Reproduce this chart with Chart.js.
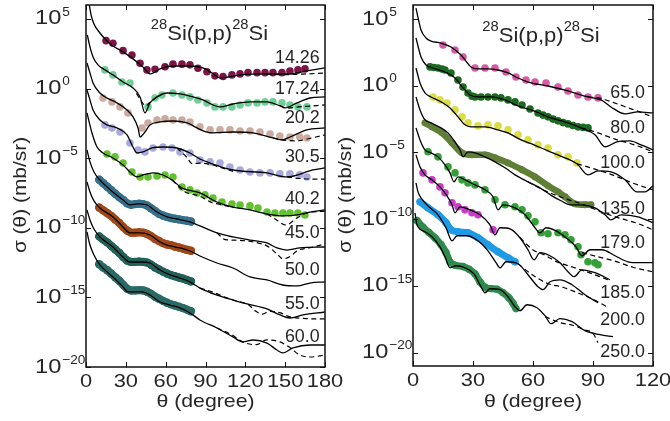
<!DOCTYPE html>
<html>
<head>
<meta charset="utf-8">
<script src="https://cdn.jsdelivr.net/npm/chart.js@4.4.1/dist/chart.umd.min.js"></script>
<style>
  html, body { margin: 0; padding: 0; background: #fff; }
  #wrap { position: relative; width: 670px; height: 421px; overflow: hidden; }
  #wrap canvas { position: absolute; top: 0; }
  #left { left: 0; }
  #right { left: 335px; }
</style>
</head>
<body>
<div id="wrap">
  <canvas id="left" width="350" height="421"></canvas>
  <canvas id="right" width="335" height="421"></canvas>
</div>
<script>
// Angular distributions, [theta (deg), log10 sigma (mb/sr)], curves shifted by decades.
// fit_* = solid model, dash_* = dashed model, exp_* = measured points.

// ---- left panel ----
const leftEnergies = ['14.26', '17.24', '20.2', '30.5', '40.2', '45.0', '50.0', '55.0', '60.0'];
const leftXTicks = [0, 30, 60, 90, 120, 150, 180];
const yTickExps = [5, 0, -5, -10, -15, -20];

const fit_14_26 = [[2.5,6.0],[3.8,5.29],[6,4.64],[10.5,3.99],[15.1,3.49],[20.3,3.06],[27.9,2.63],[35.4,2.13],[42.9,1.55],[48.2,1.05],[52,1.19],[55.7,1.41],[65.5,1.62],[78.3,1.62],[88,1.48],[94.9,1.12],[100.9,0.76],[106.9,0.83],[116,0.98],[136.3,1.05],[153.6,1.05],[166.4,1.27],[180,1.48]];
const dash_14_26 = [[136.3,1.05],[150,1.0],[166,1.05],[180,1.12]];
const exp_14_26 = [[15.1,3.44],[20.3,3.25],[27.9,2.72],[34.6,2.41],[40.7,1.82],[45.9,1.34],[52,1.39],[59.5,1.57],[65.5,1.75],[72.3,1.75],[78.3,1.70],[84.3,1.46],[91.1,1.21],[97.1,0.91],[103.2,0.86],[109.9,0.98],[116,1.05],[122,1.14],[128.8,1.14],[134.8,1.14],[140.8,1.14],[147.6,1.14],[153.6,1.26],[159.6,1.34],[164.9,1.41]];

const fit_17_24 = [[1,3.85],[3,2.99],[5.3,2.27],[9,1.70],[14.3,1.34],[20.3,0.98],[27.9,0.47],[35.4,0.04],[40.7,-0.60],[44.4,-1.75],[48.2,-1.03],[53.5,-0.60],[61,-0.32],[70.8,-0.39],[80.6,-0.60],[88.1,-0.82],[95.6,-1.18],[100.9,-1.32],[110.7,-1.11],[123.5,-0.96],[136.3,-0.96],[146.1,-1.25],[149.8,-1.39],[158.9,-1.03],[168.7,-0.68],[180,-0.60]];
const dash_17_24 = [[38,-0.35],[42,-0.95],[45,-1.25],[48,-1.0],[53.5,-0.6],[60,null],[146.1,-1.25],[152,-1.4],[160,-1.32],[170,-1.25],[180,-1.18]];
const exp_17_24 = [[14.3,1.34],[20.3,0.98],[27.1,0.47],[33.1,0.40],[46.7,-1.32],[52,-0.68],[57.2,-0.46],[65.5,-0.32],[72.3,-0.46],[78.3,-0.60],[84.3,-0.82],[91.1,-1.03],[97.1,-1.32],[103.2,-1.32],[109.9,-1.32],[116,-1.18],[122,-1.03],[128.8,-1.03],[134.8,-0.96],[140.8,-0.96],[147.6,-1.03],[153.6,-1.18],[159.6,-1.32],[166.4,-1.32]];

const fit_20_2 = [[0.75,1.84],[3,1.12],[5.3,0.40],[10.5,-0.32],[15.8,-0.68],[23.3,-1.03],[30.9,-1.54],[35.4,-2.04],[39.2,-2.83],[40.7,-3.48],[44.4,-3.12],[48.2,-2.61],[55.7,-2.40],[65.5,-2.33],[76.1,-2.47],[83.6,-2.83],[90.4,-3.12],[95.6,-3.19],[110.7,-3.12],[125.8,-3.19],[140.8,-3.55],[147.6,-3.69],[153.6,-3.48],[166.4,-2.97],[180,-2.83]];
const dash_20_2 = [[140.8,-3.55],[147.6,-3.69],[158,-3.76],[170,-3.55],[180,-3.33]];
const exp_20_2 = [[12.8,-0.68],[19.6,-0.96],[25.6,-1.32],[31.6,-1.75],[42.2,-2.83],[46.7,-2.47],[53.5,-2.26],[59.5,-2.18],[65.5,-2.26],[72.3,-2.26],[78.3,-2.40],[85.8,-2.75],[93.4,-2.97],[100.9,-2.97],[108.4,-2.97],[116,-3.05],[123.5,-3.05],[131,-3.12],[138.6,-3.26],[146,-3.41],[153.6,-3.48],[161,-3.48],[166.4,-3.55]];

const fit_30_5 = [[0.75,-0.10],[3,-0.82],[5.3,-1.54],[10.5,-2.26],[15.8,-2.61],[23.3,-2.83],[30.9,-3.33],[35.4,-4.20],[38.4,-4.63],[42.9,-4.55],[49.7,-4.27],[58,-4.20],[68.5,-4.27],[78.3,-4.63],[85.8,-5.06],[93.4,-5.35],[110.7,-5.85],[136.3,-6.06],[151.4,-6.35],[170.9,-5.85],[180,-5.70]];
const dash_30_5 = [[68.5,-4.27],[76,-4.95],[80,-5.4],[86,-5.35],[93.4,-5.45],[110.7,-5.95],[125,null],[151.4,-6.35],[160,-6.45],[170,-6.5],[180,-6.5]];
const exp_30_5 = [[14.3,-2.61],[19.6,-2.83],[25.6,-3.12],[33.1,-3.91],[39.2,-4.41],[44.4,-4.55],[50.5,-4.27],[58,-4.20],[64.8,-4.27],[70.8,-4.55],[78.3,-4.63],[85.8,-5.13],[93.4,-5.27],[100.9,-5.35],[108.4,-5.63],[116,-5.85],[123.5,-5.99],[131,-6.06],[138.6,-6.06],[146,-6.13],[153.6,-6.13],[161,-6.2],[166.4,-6.35]];

const fit_40_2 = [[0.75,-1.75],[4.5,-3.19],[8.3,-4.20],[12.8,-4.63],[20.3,-4.99],[27.9,-5.49],[33.1,-5.99],[38.4,-6.35],[42.9,-6.21],[50.5,-6.06],[58,-6.21],[64.8,-6.57],[72.3,-7.14],[85.8,-7.50],[98.6,-8.15],[110.7,-8.51],[123.5,-8.72],[136.3,-9.01],[148.3,-9.15],[158.9,-9.08],[168.7,-8.87],[180,-8.72]];
const dash_40_2 = [[64.8,-6.57],[75,-7.45],[85,-7.7],[95,-8.2],[100,-8.3],[110.7,-8.55],[125,null],[136.3,-9.01],[143,-9.4],[150.6,-9.8],[158.9,-9.3],[166.4,-8.94],[180,-8.8]];
const exp_40_2 = [[15.8,-4.70],[21.8,-4.91],[27.9,-5.35],[34.6,-5.99],[40.7,-6.35],[46.7,-6.35],[53.5,-6.28],[59.5,-6.21],[65.5,-6.35],[72.3,-7.07],[78.3,-7.28],[83.6,-7.50],[89.6,-7.64],[95.6,-7.86],[102.4,-8.15],[109.9,-8.29],[116,-8.36],[123.5,-8.43],[129.5,-8.58],[136.3,-8.87],[142.3,-8.94],[148.3,-8.94],[153.6,-8.94],[159.6,-8.94],[164.9,-9.08]];

const fit_45 = [[0.75,-4.41],[3,-5.27],[6,-5.99],[10.5,-6.57],[20.3,-7.43],[27.9,-8.0],[33.1,-8.36],[39.2,-8.29],[45.9,-8.36],[53.5,-8.87],[61,-9.22],[68.5,-9.37],[78.3,-9.58],[85.8,-9.87],[98.6,-10.37],[110.7,-10.66],[123.5,-10.88],[136.3,-11.09],[143.8,-11.45],[151.4,-11.60],[161.1,-11.45],[180,-11.38]];
const dash_45 = [[98.6,-10.37],[105,-10.85],[115,-10.9],[130,-11.1],[136.3,-11.3],[143.8,-11.88],[148.3,-12.23],[153,-12.1],[160,-11.6],[168,-11.45],[180,-11.16]];
const exp_45 = [[10,-6.55],[13,-6.8],[16,-7.05],[19,-7.3],[22,-7.55],[25,-7.8],[28,-8.0],[31,-8.25],[34,-8.35],[37,-8.3],[40,-8.28],[43,-8.3],[46,-8.4],[49,-8.6],[52,-8.8],[55,-9.0],[58,-9.12],[61,-9.22],[64,-9.3],[67,-9.35],[70,-9.4],[73,-9.45],[76,-9.5],[79,-9.55]];

const fit_50 = [[0.75,-6.71],[3,-7.43],[6,-8.07],[10.5,-8.58],[20.3,-9.22],[27.9,-9.94],[33.1,-10.37],[40.7,-10.37],[48.2,-10.52],[55.7,-11.02],[61,-11.24],[70.8,-11.45],[78.3,-11.67],[85.8,-12.03],[98.6,-12.53],[110.7,-12.89],[123.5,-13.53],[136.3,-13.75],[148.3,-14.11],[158.9,-14.18],[168.7,-13.97],[180,-13.89]];
const dash_50 = [];
const exp_50 = [[10,-8.55],[13,-8.75],[16,-8.95],[19,-9.15],[22,-9.4],[25,-9.65],[28,-9.95],[31,-10.2],[34,-10.35],[37,-10.35],[40,-10.33],[43,-10.35],[46,-10.45],[49,-10.6],[52,-10.8],[55,-10.95],[58,-11.1],[61,-11.2],[64,-11.25],[67,-11.35],[70,-11.42],[73,-11.5],[76,-11.58],[79,-11.65]];

const fit_55 = [[0.75,-8.72],[3,-9.44],[6,-10.09],[10.5,-10.66],[20.3,-11.38],[27.9,-12.10],[33.1,-12.46],[42.2,-12.46],[48.2,-12.53],[55.7,-13.03],[63.3,-13.39],[70.8,-13.61],[78.3,-13.89],[85.8,-14.33],[98.6,-14.83],[110.7,-15.19],[121.2,-15.47],[136.3,-15.83],[146.1,-16.26],[153.6,-16.48],[163.4,-16.26],[180,-16.05]];
const dash_55 = [[85.8,-14.33],[95,-14.6],[105,-15.0],[115,-15.3],[122,-15.5],[128,-16.0],[133,-16.2],[138,-16.0],[146,-16.1],[153.6,-16.4],[163,-16.5],[172,-16.55],[180,-16.55]];
const exp_55 = [[10,-10.62],[13,-10.85],[16,-11.05],[19,-11.3],[22,-11.55],[25,-11.8],[28,-12.1],[31,-12.35],[34,-12.45],[37,-12.45],[40,-12.43],[43,-12.45],[46,-12.5],[49,-12.65],[52,-12.85],[55,-13.0],[58,-13.15],[61,-13.28],[64,-13.4],[67,-13.48],[70,-13.57],[73,-13.65],[76,-13.75],[79,-13.85]];

const fit_60 = [[0.75,-10.30],[3,-11.24],[6,-11.95],[10.5,-12.67],[20.3,-13.53],[27.9,-14.25],[31.6,-14.61],[42.2,-14.61],[48.2,-14.83],[55.7,-15.33],[63.3,-15.55],[70.8,-15.76],[78.3,-16.12],[85.8,-16.62],[98.6,-17.2],[110.7,-17.84],[118.2,-18.2],[125.8,-18.06],[136.3,-18.28],[143.8,-18.78],[148.3,-18.99],[155.9,-18.63],[168.7,-18.42],[180,-18.42]];
const dash_60 = [[98.6,-17.2],[110,-17.7],[118,-18.2],[128,-18.4],[136.3,-18.05],[146,-18.2],[153.6,-18.6],[161,-19.14],[169,-19.28],[180,-19.14]];
const exp_60 = [[10,-12.62],[13,-12.85],[16,-13.05],[19,-13.3],[22,-13.55],[25,-13.8],[28,-14.1],[31,-14.38],[34,-14.5],[37,-14.5],[40,-14.48],[43,-14.5],[46,-14.6],[49,-14.75],[52,-14.95],[55,-15.1],[58,-15.25],[61,-15.38],[64,-15.5],[67,-15.58],[70,-15.67],[73,-15.77],[76,-15.88],[79,-16.0]];

// ---- right panel ----
const rightEnergies = ['65.0', '80.0', '100.0', '135.0', '179.0', '185.0', '200.0', '250.0'];
const rightXTicks = [0, 30, 60, 90, 120];

const fit_65 = [[1.5,5.82],[3,4.78],[4,4.18],[6.5,3.58],[9,3.35],[14,3.20],[19,2.90],[24,2.30],[29,1.41],[32.5,1.26],[37.5,1.26],[42.5,1.18],[47.5,0.96],[52.5,0.58],[57.5,0.28],[67.5,-0.02],[77.5,-0.39],[87.5,-0.84],[94,-1.06],[99,-1.59],[106,-2.11],[112.5,-1.96],[120,-2.04]];
const dash_65 = [[87.5,-0.84],[94,-0.95],[100,-1.25],[107.5,-1.65],[114,-2.0],[120,-2.35]];
const exp_65 = [[15,3.05],[21,2.68],[25,2.15],[31,1.33],[36,1.33],[41,1.33],[46.5,1.03],[51.5,0.66],[56.5,0.43],[61,0.28],[66.5,0.21],[72.5,-0.09],[77.5,-0.39],[82.5,-0.69],[87.5,-0.84],[92.5,-0.91]];

const fit_80 = [[1.5,3.58],[3,2.68],[4,2.16],[6.5,1.56],[10,1.33],[16,1.03],[21,0.58],[25,-0.16],[28.5,-0.69],[32.5,-0.84],[39,-0.84],[46,-1.06],[52.5,-1.51],[60.5,-1.89],[67.5,-2.33],[77.5,-2.78],[84,-3.16],[91,-3.68],[96,-4.58],[102,-4.21],[108.5,-4.13],[114,-4.43],[120,-4.81]];
const dash_80 = [[84,-3.16],[91,-3.45],[101,-4.0],[108.5,-4.33],[114,-4.6],[120,-4.95]];
const exp_80 = [[8.5,1.41],[10.5,1.37],[12.5,1.33],[14.5,1.25],[16,1.18],[19,0.96],[22.5,0.43],[25,-0.09],[27.5,-0.54],[29.5,-0.78],[31,-0.84],[34,-0.84],[37.5,-0.84],[41,-0.84],[44,-0.91],[47.5,-1.06],[51,-1.21],[54.5,-1.44],[58.5,-1.74],[62.5,-2.04],[65,-2.2],[67.5,-2.33],[70,-2.5],[72.5,-2.63],[75,-2.76],[77.5,-2.86],[80,-2.98],[82.5,-3.08],[85,-3.12],[87.5,-3.16]];

const fit_100 = [[1.5,1.33],[3.5,0.21],[6,-0.54],[9,-0.84],[14,-1.21],[18.5,-1.66],[22.5,-2.33],[26,-2.93],[29,-3.08],[36,-3.08],[42.5,-3.31],[47.5,-3.53],[54,-4.06],[60.5,-4.43],[67.5,-4.88],[76,-5.40],[82,-5.85],[87.5,-6.68],[92.5,-6.38],[99,-6.45],[106,-7.05],[112,-7.95],[116,-7.95],[120,-7.50]];
const dash_100 = [[82,-5.85],[90,-6.2],[100,-6.7],[110,-7.3],[120,-7.8]];
const exp_100 = [[10,-0.84],[13.5,-1.06],[17,-1.29],[21,-1.81],[24.5,-2.33],[27.5,-2.78],[32.5,-3.01],[37.5,-2.93],[42.5,-3.01],[47.5,-3.31],[52.5,-3.68],[57.5,-4.06],[62.5,-4.43],[67.5,-4.66],[72.5,-5.18],[77.5,-5.33],[82,-5.78]];

const fit_135 = [[1.5,-0.84],[3.5,-1.81],[6,-2.56],[9,-2.78],[14,-3.16],[17.5,-3.53],[21,-4.21],[23.5,-4.81],[25,-5.33],[27.5,-4.95],[31,-5.03],[36,-5.33],[41,-5.70],[46,-6.15],[51,-6.68],[57.5,-7.20],[63.5,-7.65],[69.5,-8.25],[74,-8.62],[78.5,-8.92],[84,-8.92],[91,-9.15],[96,-9.67],[99,-10.05],[104,-9.67],[112.5,-9.82],[120,-10.27]];
const dash_135 = [[57.5,-7.2],[65,-7.8],[75,-8.4],[85,-8.9],[95,-9.5],[105,-10.0],[112,-10.3],[120,-10.8]];
const exp_135 = [[6,-2.78],[9.5,-3.08],[14.5,-3.53],[19.5,-4.28],[24.5,-5.03],[29.5,-5.18],[36,-5.18],[41,-5.40],[47.5,-5.78],[54.5,-6.30],[61,-6.83],[67.5,-7.50],[72.5,-7.95],[76,-8.32],[81,-8.85],[86,-8.92],[89,-8.92]];

const fit_179 = [[1.5,-3.16],[3.5,-4.06],[6,-4.81],[9,-5.03],[12.5,-5.33],[16,-5.93],[18.5,-6.53],[20.5,-7.20],[22.5,-6.83],[26,-7.05],[31,-7.43],[36,-7.80],[40,-8.32],[42.5,-9.30],[45,-8.92],[51,-9.15],[56,-9.67],[61,-10.64],[63.5,-11.02],[66.5,-10.64],[71.5,-10.87],[76.5,-11.39],[81.5,-12.07],[84.5,-12.74],[88.5,-12.29],[94.5,-12.29],[101,-12.74],[107.5,-13.19],[113.5,-13.26],[120,-13.26]];
const dash_179 = [[84.5,-12.5],[92,-12.8],[100,-13.1],[110,-13.6],[120,-13.95]];
const exp_179 = [[7.5,-4.95],[12.5,-5.33],[17.5,-6.08],[21,-6.53],[24.5,-7.05],[27.5,-7.28],[31,-7.43],[36,-7.80],[41,-8.55],[46,-8.92],[51,-9.07],[54.5,-9.30],[57.5,-9.75],[61,-10.20],[64,-11.02],[67.5,-11.09],[72.5,-11.02],[76,-11.17],[79,-11.54],[82.5,-12.07],[84,-12.66],[87.5,-13.19],[91,-13.26],[92.5,-13.41]];

const fit_185 = [[1.5,-5.18],[3.5,-6.08],[6,-6.68],[9.5,-7.05],[13.5,-7.58],[17,-8.25],[19.5,-8.92],[21,-9.52],[23.5,-9.07],[28.5,-9.30],[33.5,-9.67],[38.5,-10.42],[41,-11.17],[43.5,-10.64],[48.5,-10.72],[53.5,-11.39],[57.5,-12.29],[60.5,-13.04],[63.5,-12.51],[68.5,-12.74],[73.5,-13.26],[77.5,-13.94],[80.5,-14.31],[84.5,-13.79],[91,-14.01],[98.5,-14.54]];
const dash_185 = [[53.5,-11.39],[60,-12.3],[66,-12.7],[72,-13.2],[80,-13.6],[88,-14.0],[98.5,-14.6]];
const exp_185 = [[5,-6.53],[9.5,-7.05],[13.5,-7.58],[16,-8.02],[19.5,-8.77],[22.5,-9.07],[26,-9.30],[29.5,-9.52],[32.5,-9.67],[40,-10.79]];

const fit_200 = [[1.5,-7.28],[2.5,-7.95],[4,-8.40],[7.5,-9.00],[12.5,-9.67],[16.5,-10.64],[19.5,-11.62],[22,-11.24],[27,-11.24],[32.5,-11.62],[37.5,-12.37],[41.5,-13.26],[43.5,-13.64],[46.5,-13.19],[52.5,-13.34],[57.5,-14.16],[62.5,-15.06],[65,-15.28],[68.5,-14.69],[73.5,-14.54],[79.5,-14.91],[86,-15.66],[92.5,-16.26]];
const dash_200 = [[52.5,-13.34],[60,-14.2],[67,-14.8],[75,-15.1],[82,-15.5],[90,-16.0],[97.5,-16.6]];
const exp_200 = [[3.5,-8.70],[7.5,-9.15],[12.5,-9.67],[16.5,-10.27],[19,-10.79],[22.5,-10.94],[27.5,-11.02],[32.5,-11.39],[37.5,-11.92],[42.5,-12.44],[47.5,-12.89],[51,-13.19]];

const fit_250 = [[1,-9.52],[2,-10.42],[6,-10.94],[9.5,-11.32],[13.5,-12.07],[16,-12.81],[18.5,-13.64],[21.5,-13.49],[26,-13.64],[30.5,-14.09],[34,-15.06],[36,-15.51],[38.5,-15.21],[43.5,-15.28],[47.5,-15.81],[51,-16.56],[53.5,-16.86],[57,-16.41],[62,-16.63],[66,-17.23],[69,-17.83],[73.5,-17.45],[79.5,-17.68],[86,-18.35],[93.5,-18.65],[100,-18.80]];
const dash_250 = [[66,-17.3],[73.5,-17.75],[80,-17.95],[86,-18.3],[90,-18.55],[92.5,-19.25]];
const exp_250 = [[2,-10.1],[5,-10.6],[8,-11.0],[11,-11.4],[14,-11.9],[16.5,-12.5],[18.5,-13.2],[21,-13.45],[25,-13.55],[28,-13.75],[31,-14.1],[33.5,-14.7],[36,-15.1],[39,-15.2],[42,-15.25],[45,-15.5],[48,-15.9],[50,-16.3],[51.5,-16.7]];

// where each energy tag sits (log10 sigma of its vertical centre)
const leftTagLg = [2.20, -0.03, -2.11, -4.91, -7.93, -10.37, -13.03, -15.47, -17.85];
const rightTagLg = [-0.54, -3.16, -5.78, -9.22, -11.77, -15.51, -17.60, -19.93];

const FONT = '"Liberation Sans", Arial, Helvetica, sans-serif';
const INK = '#262626';

function toPts(arr) {
  return arr.map(([t, e]) => ({ x: t, y: e === null ? null : Math.pow(10, e) }));
}
function fit(arr) {
  return { data: toPts(arr), showLine: true, borderColor: '#000', borderWidth: 1.3,
           pointRadius: 0, cubicInterpolationMode: 'monotone', order: 0 };
}
function dash(arr) {
  return { data: toPts(arr), showLine: true, borderColor: '#000', borderWidth: 1.2,
           borderDash: [5, 3.5], pointRadius: 0, cubicInterpolationMode: 'monotone', order: 1 };
}
function dots(arr, color) {
  return { data: toPts(arr), showLine: false, pointRadius: 3.8, pointBackgroundColor: color,
           pointBorderWidth: 0, order: 3 };
}
// densely sampled data: drawn as a fat ribbon of points
function band(arr, color, w) {
  return { data: toPts(arr), showLine: true, borderColor: color, borderWidth: w || 8,
           borderCapStyle: 'round', borderJoinStyle: 'round', cubicInterpolationMode: 'monotone',
           pointRadius: (w || 8) / 2 + 0.2, pointBackgroundColor: color, pointBorderWidth: 0, order: 3 };
}

function seg(ctx, x0, y0, x1, y1) {
  ctx.beginPath(); ctx.moveTo(x0, y0); ctx.lineTo(x1, y1); ctx.stroke();
}
function txt(ctx, s, x, y, size, align, sx) {
  ctx.save();
  ctx.translate(x, y);
  ctx.scale(sx || 1, 1);
  ctx.font = size + 'px ' + FONT;
  ctx.textAlign = align || 'left';
  ctx.textBaseline = 'middle';
  ctx.fillText(s, 0, 0);
  ctx.restore();
}
function txtWidth(ctx, s, size, sx) {
  ctx.font = size + 'px ' + FONT;
  return ctx.measureText(s).width * (sx || 1);
}

// frame, inward ticks, tick labels, titles and energy tags
const panelDecor = {
  id: 'panelDecor',
  afterDatasetsDraw(chart, args, o) {
    const { ctx, chartArea: a, scales: { x, y } } = chart;
    ctx.save();
    ctx.strokeStyle = '#111';
    ctx.fillStyle = INK;
    ctx.lineWidth = 1;
    o.xTicks.forEach(v => {
      const px = Math.round(x.getPixelForValue(v)) + 0.5;
      seg(ctx, px, a.bottom, px, a.bottom - 5);
      seg(ctx, px, a.top, px, a.top + 5);
    });
    o.yExps.forEach(e => {
      const py = Math.round(y.getPixelForValue(Math.pow(10, e))) + 0.5;
      seg(ctx, a.left, py, a.left + 5, py);
      seg(ctx, a.right, py, a.right - 5, py);
    });
    ctx.lineWidth = 1.5;
    ctx.strokeRect(a.left, a.top, a.right - a.left, a.bottom - a.top);

    // x tick labels
    o.xTicks.forEach(v => txt(ctx, String(v), x.getPixelForValue(v), a.bottom + 15, 19, 'center', 1.15));
    txt(ctx, '\u03b8 (degree)', (a.left + a.right) / 2, 402, 19, 'center', 1.12);

    // y tick labels 10^n
    o.yExps.forEach(e => {
      const py = y.getPixelForValue(Math.pow(10, e));
      const x0 = a.left - 51;
      txt(ctx, '10', x0, py, 20, 'left', 1.18);
      const w = txtWidth(ctx, '10', 20, 1.18);
      const ex = e < 0 ? '\u2212' + (-e) : String(e);
      txt(ctx, ex, x0 + w + 1, py - 7, 13, 'left', 1.05);
    });

    // y axis title
    ctx.save();
    ctx.translate(o.yTitleX, 195);
    ctx.rotate(-Math.PI / 2);
    txt(ctx, '\u03c3 (\u03b8) (mb/sr)', 0, 0, 19, 'center', 1.1);
    ctx.restore();

    // reaction title with superscript mass numbers
    const parts = [['28', 14, -9], ['Si(p,p)', 21, 0], ['28', 14, -9], ['Si', 21, 0]];
    let total = 0;
    parts.forEach(p => { total += txtWidth(ctx, p[0], p[1], 1.05); });
    let tx = (a.left + a.right) / 2 + o.titleShift - total / 2;
    parts.forEach(p => {
      txt(ctx, p[0], tx, o.titleY + p[2], p[1], 'left', 1.05);
      tx += txtWidth(ctx, p[0], p[1], 1.05);
    });

    // energy tags
    const tagX = x.getPixelForValue(o.tagTheta);
    o.tags.forEach((s, i) => {
      txt(ctx, s, tagX, y.getPixelForValue(Math.pow(10, o.tagLg[i])), 17.5, 'right', 1.02);
    });
    ctx.restore();
  }
};

function makeChart(id, datasets, xMax, yMin, yMax, padding, decor) {
  return new Chart(document.getElementById(id), {
    type: 'scatter',
    data: { datasets },
    options: {
      responsive: false,
      animation: false,
      devicePixelRatio: 1,
      events: [],
      layout: { padding },
      scales: {
        x: { type: 'linear', min: 0, max: xMax, display: false },
        y: { type: 'logarithmic', min: yMin, max: yMax, display: false }
      },
      plugins: { legend: { display: false }, tooltip: { enabled: false }, panelDecor: decor }
    },
    plugins: [panelDecor]
  });
}

const leftSets = [
  fit(fit_14_26), dash(dash_14_26), dots(exp_14_26, '#7d1448'),
  fit(fit_17_24), dash(dash_17_24), dots(exp_17_24, '#6fcf97'),
  fit(fit_20_2), dash(dash_20_2), dots(exp_20_2, '#cbab9e'),
  fit(fit_30_5), dash(dash_30_5), dots(exp_30_5, '#a8a9dc'),
  fit(fit_40_2), dash(dash_40_2), dots(exp_40_2, '#62c12f'),
  fit(fit_45), dash(dash_45), band(exp_45, '#356f8a'),
  fit(fit_50), dash(dash_50), band(exp_50, '#a04719'),
  fit(fit_55), dash(dash_55), band(exp_55, '#22605a'),
  fit(fit_60), dash(dash_60), band(exp_60, '#2a6a66')
];

const rightSets = [
  fit(fit_65), dash(dash_65), dots(exp_65, '#d95aa6'),
  fit(fit_80), dash(dash_80), dots(exp_80, '#1c6a1f'),
  fit(fit_100), dash(dash_100), dots(exp_100, '#dcdc45'),
  fit(fit_135), dash(dash_135), band(exp_135, '#5f7f36', 6.5),
  fit(fit_179), dash(dash_179), dots(exp_179, '#33a137'),
  fit(fit_185), dash(dash_185), dots(exp_185, '#c83cc8'),
  fit(fit_200), dash(dash_200), band(exp_200, '#1f9be6', 7),
  fit(fit_250), dash(dash_250), band(exp_250, '#2f8b4c', 7)
];

// left canvas is wider than its half so the "180" label is not cut
makeChart('left', leftSets, 180, 1e-20, 1e6,
  { left: 86, top: 5, right: 25, bottom: 54 },
  { xTicks: leftXTicks, yExps: yTickExps, yTitleX: 21, titleShift: 4, titleY: 34,
    tags: leftEnergies, tagLg: leftTagLg, tagTheta: 176 });

makeChart('right', rightSets, 120, 1e-21, Math.pow(10, 6.05),
  { left: 78, top: 5, right: 17, bottom: 55 },
  { xTicks: rightXTicks, yExps: yTickExps, yTitleX: 11, titleShift: 8, titleY: 36,
    tags: rightEnergies, tagLg: rightTagLg, tagTheta: 116 });
</script>
</body>
</html>
